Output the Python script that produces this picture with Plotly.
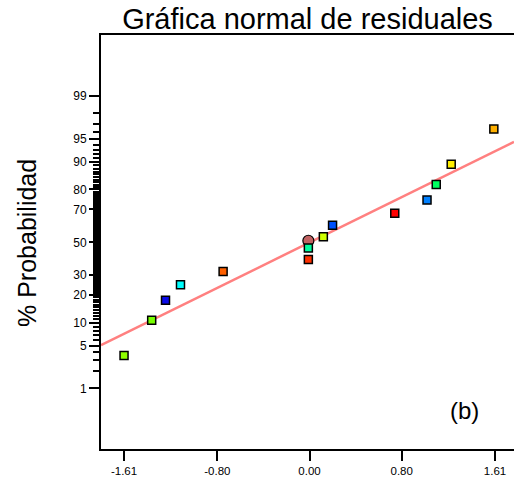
import plotly.graph_objects as go
from statistics import NormalDist

# ---- data ----
residuals = [-1.61, -1.37, -1.25, -1.12, -0.75, -0.01, -0.01, 0.12, 0.20, 0.74, 1.02, 1.10, 1.23, 1.60]
prob_pct = [3.57, 10.71, 17.86, 25.0, 32.14, 39.29, 46.43, 53.57, 60.71, 67.86, 75.0, 82.14, 89.29, 96.43]
point_colors = ["#8fff00", "#77ff00", "#0a0ae8", "#00ffff", "#ff6000", "#ff3000", "#00ffa0",
                "#d0ff00", "#0050ff", "#ff0000", "#0080ff", "#00ff60", "#ffee00", "#ffb000"]
center_x = [-0.01]
center_pct = [51.0]
line_x = [-1.81, 1.775]
line_pct = [5.1, 94.5]
y_major = [1, 5, 10, 20, 30, 50, 70, 80, 90, 95, 99]
y_minor = [p for p in range(2, 99) if p not in y_major]
x_ticks = [-1.61, -0.80, 0.00, 0.80, 1.61]
x_ticktext = ["-1.61", "-0.80", "0.00", "0.80", "1.61"]

nd = NormalDist()
def z(p):
    return nd.inv_cdf(p / 100.0)

y_range = [-3.29, 3.30]

fig = go.Figure()
fig.add_trace(go.Scatter(x=line_x, y=[z(p) for p in line_pct], mode="lines",
                         line=dict(color="#ff8080", width=2.5), hoverinfo="skip"))
fig.add_trace(go.Scatter(x=center_x, y=[z(p) for p in center_pct], mode="markers",
                         marker=dict(symbol="circle", size=11, color="#c06262",
                                     line=dict(color="black", width=1.2))))
fig.add_trace(go.Scatter(x=residuals, y=[z(p) for p in prob_pct], mode="markers",
                         marker=dict(symbol="square", size=8, color=point_colors,
                                     line=dict(color="black", width=1.5))))

font_family = "Liberation Sans, Arial, sans-serif"
fig.update_layout(
    width=514, height=480,
    margin=dict(l=101, r=0, t=35, b=31),
    paper_bgcolor="white", plot_bgcolor="white",
    showlegend=False,
    font=dict(family=font_family, color="black"),
    title=dict(text="Gráfica normal de residuales", x=0.5, xref="paper",
               y=1 - 19 / 480, yref="container", yanchor="middle",
               font=dict(size=29, family=font_family, color="black")),
    xaxis=dict(range=[-1.81, 1.775], showline=True, linecolor="black", linewidth=2,
               mirror=True, ticks="outside", ticklen=10, tickwidth=1.5, tickcolor="black",
               tickvals=x_ticks, ticktext=x_ticktext, showgrid=False, zeroline=False,
               tickfont=dict(size=11.5, family=font_family, color="black")),
    yaxis=dict(range=y_range, showline=True, linecolor="black", linewidth=2,
               ticks="outside", ticklen=10, tickwidth=1.5, tickcolor="black",
               tickvals=[z(p) for p in y_major], ticktext=[str(p) for p in y_major],
               showgrid=True, gridcolor="white", zeroline=False,
               tickfont=dict(size=12, family=font_family, color="black"),
               minor=dict(tickmode="array", tickvals=[z(p) for p in y_minor],
                          ticks="outside", ticklen=6, tickwidth=1.5, tickcolor="black",
                          showgrid=True, gridcolor="white")),
    annotations=[
        dict(text="% Probabilidad", textangle=-90, xref="paper", yref="paper",
             x=0, y=0.4976, xshift=-74, xanchor="center", yanchor="middle",
             showarrow=False, font=dict(size=25, family=font_family, color="black")),
        dict(text="(b)", xref="paper", yref="paper", x=(464 - 101) / 413, y=(449 - 410) / 414,
             xanchor="center", yanchor="middle", showarrow=False,
             font=dict(size=24, family=font_family, color="black")),
    ],
)

fig.write_html("out.html")
